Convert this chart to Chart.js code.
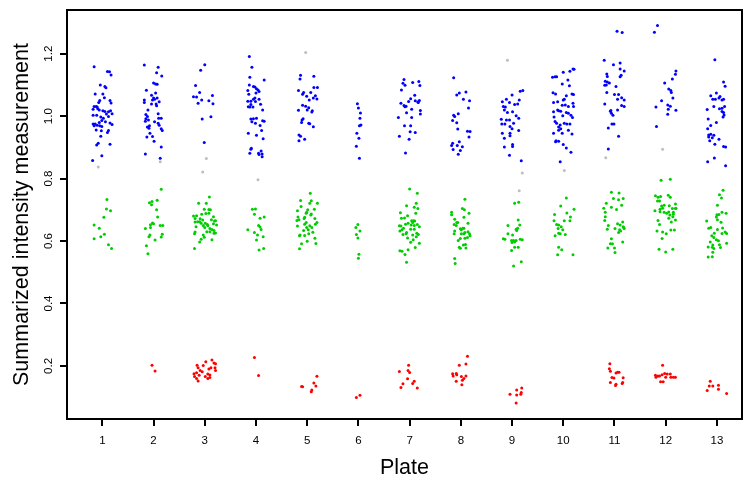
<!DOCTYPE html>
<html lang="en">
<head>
<meta charset="UTF-8">
<title>Summarized intensity by plate</title>
<script src="https://cdn.jsdelivr.net/npm/chart.js"></script>
<style>
  body { margin: 0; background: #fff; }
  #wrap { width: 745px; height: 478px; }
</style>
</head>
<body>
<div id="wrap"><canvas id="myChart" width="745" height="478"></canvas></div>

<script>
// plates on the x axis and the y tick labels
const plates = [1, 2, 3, 4, 5, 6, 7, 8, 9, 10, 11, 12, 13];
const yTicks = [0.2, 0.4, 0.6, 0.8, 1.0, 1.2];

// one list per plate, every point is [jitter, value] (jitter = horizontal spread round the plate)
const blue = [
  [[-0.16,1.158],[0.10,1.143],[0.14,1.142],[0.17,1.132],[-0.04,1.100],[0.05,1.095],[0.07,1.091],[-0.14,1.071],[0.01,1.071],[0.04,1.059],[-0.05,1.050],[-0.07,1.044],[0.15,1.050],[0.17,1.042],[-0.16,1.031],[-0.12,1.031],[-0.10,1.029],[-0.18,1.022],[-0.09,1.024],[-0.06,1.020],[0.01,1.017],[0.05,1.015],[0.12,1.014],[0.16,1.017],[0.19,1.008],[0.08,1.007],[-0.18,1.003],[-0.11,1.003],[-0.03,0.997],[0.02,0.993],[0.12,0.999],[-0.01,0.986],[-0.06,0.980],[-0.18,0.975],[-0.14,0.975],[-0.10,0.971],[0.06,0.982],[0.15,0.978],[0.19,0.973],[-0.16,0.969],[-0.05,0.969],[-0.01,0.967],[-0.12,0.956],[-0.02,0.953],[0.12,0.954],[0.10,0.948],[-0.03,0.936],[-0.08,0.913],[-0.11,0.908],[0.15,0.910],[-0.01,0.873],[-0.19,0.858]],
  [[-0.18,1.164],[0.09,1.157],[0.06,1.139],[0.16,1.129],[0.00,1.106],[0.04,1.103],[0.07,1.102],[-0.14,1.083],[0.04,1.074],[-0.04,1.067],[0.00,1.058],[0.02,1.054],[-0.02,1.052],[0.07,1.058],[-0.18,1.052],[0.11,1.046],[0.05,1.039],[-0.04,1.039],[-0.18,1.044],[0.06,1.033],[-0.11,1.020],[-0.15,1.005],[0.09,1.008],[-0.12,0.999],[-0.15,0.992],[-0.10,0.988],[-0.16,0.984],[0.10,0.993],[0.15,0.993],[0.02,0.982],[0.09,0.977],[0.11,0.971],[-0.08,0.969],[-0.12,0.965],[-0.09,0.961],[0.15,0.960],[0.17,0.954],[-0.07,0.945],[-0.13,0.933],[-0.02,0.935],[0.01,0.920],[0.15,0.901],[-0.16,0.879],[0.13,0.865]],
  [[0.00,1.165],[-0.08,1.147],[-0.18,1.098],[-0.10,1.076],[-0.22,1.062],[-0.16,1.061],[-0.06,1.052],[0.08,1.049],[0.15,1.066],[0.16,1.040],[-0.13,1.041],[-0.05,0.991],[0.12,0.998],[-0.01,0.916]],
  [[-0.13,1.191],[-0.08,1.157],[-0.12,1.125],[0.16,1.116],[-0.13,1.100],[-0.05,1.095],[-0.02,1.093],[0.01,1.088],[0.04,1.084],[0.06,1.079],[-0.16,1.082],[-0.14,1.070],[0.00,1.074],[-0.02,1.058],[-0.05,1.054],[0.06,1.054],[-0.16,1.048],[-0.10,1.048],[-0.01,1.047],[0.09,1.038],[-0.10,1.037],[-0.15,1.030],[-0.12,1.029],[-0.06,1.029],[0.13,1.020],[-0.10,0.991],[-0.05,0.992],[0.01,0.993],[0.13,0.985],[0.16,0.984],[-0.08,0.982],[-0.01,0.977],[0.08,0.970],[0.11,0.954],[-0.15,0.945],[0.01,0.939],[0.14,0.928],[-0.09,0.897],[-0.10,0.894],[-0.12,0.881],[0.05,0.881],[0.10,0.888],[0.12,0.879],[0.06,0.877],[0.12,0.870]],
  [[-0.13,1.131],[-0.14,1.119],[0.13,1.128],[-0.17,1.082],[-0.07,1.076],[-0.09,1.070],[-0.01,1.064],[0.07,1.076],[0.20,1.092],[0.13,1.092],[0.16,1.065],[0.12,1.058],[0.19,1.055],[0.04,1.052],[-0.09,1.035],[-0.03,1.032],[0.03,1.027],[0.00,1.020],[0.10,1.017],[0.09,1.013],[-0.17,1.019],[-0.08,0.992],[-0.10,0.988],[-0.11,0.980],[0.03,0.977],[0.05,0.976],[0.12,0.966],[-0.16,0.940],[-0.13,0.936],[-0.05,0.926],[-0.16,0.921]],
  [[-0.02,1.040],[0.00,1.026],[0.04,1.010],[0.03,0.993],[0.05,0.972],[0.02,0.969],[-0.03,0.945],[0.01,0.929],[-0.04,0.904],[0.02,0.865]],
  [[-0.11,1.117],[-0.13,1.105],[-0.09,1.099],[0.06,1.108],[0.18,1.111],[0.20,1.098],[-0.16,1.084],[0.10,1.067],[0.02,1.056],[-0.02,1.047],[-0.11,1.034],[-0.07,1.032],[-0.09,1.030],[-0.17,1.041],[0.11,1.049],[0.16,1.045],[0.19,1.050],[0.17,1.044],[0.04,1.022],[0.21,1.018],[0.21,1.007],[-0.06,1.011],[-0.22,0.996],[0.04,0.996],[-0.10,0.969],[0.02,0.969],[0.01,0.950],[0.11,0.948],[-0.20,0.936],[-0.01,0.926],[-0.08,0.882]],
  [[-0.14,1.123],[-0.08,1.068],[-0.03,1.074],[0.10,1.077],[0.05,1.054],[0.17,1.049],[0.15,1.026],[-0.05,1.008],[-0.14,1.003],[-0.12,0.999],[-0.16,0.986],[-0.08,0.979],[-0.06,0.959],[0.13,0.952],[0.18,0.951],[0.16,0.933],[-0.03,0.918],[-0.16,0.913],[-0.18,0.906],[-0.07,0.906],[0.03,0.902],[-0.15,0.893],[-0.01,0.890],[-0.05,0.878]],
  [[-0.19,1.046],[-0.11,1.054],[0.00,1.068],[-0.05,1.044],[0.05,1.037],[0.11,1.039],[0.16,1.080],[0.21,1.082],[0.14,1.052],[-0.17,1.031],[-0.13,1.029],[-0.15,1.020],[-0.09,1.012],[0.01,1.014],[0.08,1.001],[0.13,0.993],[-0.21,0.990],[-0.11,0.988],[-0.05,0.988],[0.03,0.977],[-0.20,0.975],[-0.14,0.975],[-0.04,0.967],[0.00,0.960],[0.13,0.954],[-0.19,0.945],[-0.04,0.945],[-0.04,0.937],[-0.15,0.929],[0.01,0.909],[0.01,0.903],[-0.15,0.901],[-0.05,0.875],[0.18,0.857]],
  [[0.00,1.141],[0.13,1.144],[0.19,1.151],[0.21,1.150],[-0.21,1.125],[-0.16,1.126],[-0.13,1.126],[0.09,1.116],[-0.02,1.103],[0.12,1.097],[-0.20,1.075],[-0.15,1.071],[0.17,1.071],[0.20,1.069],[0.06,1.065],[0.02,1.054],[0.00,1.052],[-0.11,1.046],[-0.19,1.044],[0.19,1.041],[-0.02,1.035],[0.04,1.036],[0.10,1.031],[0.20,1.031],[-0.11,1.020],[-0.09,1.017],[-0.05,1.016],[-0.19,1.014],[0.06,1.012],[0.10,1.009],[0.15,1.003],[-0.01,1.001],[0.18,0.996],[-0.18,0.997],[-0.16,0.983],[-0.13,0.977],[0.02,0.977],[0.07,0.975],[0.13,0.975],[-0.06,0.972],[-0.09,0.965],[-0.05,0.960],[-0.09,0.955],[0.10,0.955],[-0.02,0.945],[0.17,0.943],[-0.19,0.945],[-0.14,0.921],[-0.15,0.918],[-0.09,0.920],[0.00,0.909],[0.06,0.898],[0.15,0.884],[-0.06,0.854]],
  [[0.05,1.272],[0.15,1.268],[-0.20,1.179],[-0.02,1.165],[0.11,1.170],[0.11,1.151],[0.19,1.145],[-0.15,1.135],[-0.14,1.127],[0.13,1.131],[0.11,1.126],[-0.18,1.112],[-0.14,1.109],[-0.10,1.106],[-0.19,1.099],[-0.16,1.100],[0.03,1.095],[-0.15,1.076],[0.00,1.069],[0.08,1.069],[0.06,1.054],[0.14,1.059],[0.19,1.052],[-0.19,1.039],[0.14,1.034],[0.19,1.031],[0.06,1.020],[-0.08,1.016],[-0.07,1.018],[-0.06,1.009],[-0.03,1.003],[-0.05,0.975],[-0.01,0.975],[-0.12,0.962],[0.08,0.936],[-0.12,0.895]],
  [[-0.16,1.290],[-0.22,1.269],[0.20,1.145],[0.19,1.134],[0.13,1.119],[-0.02,1.106],[0.06,1.087],[0.10,1.082],[0.11,1.076],[0.14,1.058],[-0.08,1.049],[0.04,1.036],[0.09,1.032],[-0.19,1.029],[0.20,1.019],[0.05,1.022],[0.04,1.006],[-0.18,0.967]],
  [[-0.04,1.181],[0.13,1.109],[0.16,1.096],[-0.12,1.065],[-0.01,1.074],[-0.08,1.054],[-0.03,1.054],[0.04,1.058],[0.06,1.063],[0.10,1.052],[0.13,1.054],[-0.19,1.021],[-0.06,1.031],[0.05,1.024],[0.10,1.025],[0.15,1.031],[0.10,1.015],[0.13,1.012],[0.14,1.004],[0.12,0.997],[-0.17,0.991],[-0.01,0.980],[-0.12,0.970],[-0.18,0.960],[-0.16,0.940],[-0.12,0.942],[-0.06,0.939],[-0.16,0.933],[-0.09,0.931],[-0.14,0.921],[0.04,0.926],[-0.04,0.910],[0.13,0.903],[0.17,0.901],[-0.05,0.866],[-0.18,0.854],[0.17,0.841]]
];

const green = [
  [[0.09,0.733],[0.08,0.703],[0.16,0.697],[0.03,0.676],[-0.16,0.651],[-0.06,0.641],[0.04,0.622],[-0.03,0.614],[-0.16,0.607],[0.12,0.588],[0.18,0.576]],
  [[0.15,0.766],[0.07,0.731],[-0.08,0.723],[-0.03,0.727],[-0.04,0.716],[0.06,0.700],[0.08,0.677],[-0.02,0.658],[-0.06,0.652],[0.00,0.655],[0.13,0.650],[0.18,0.650],[-0.06,0.643],[-0.16,0.640],[0.17,0.622],[-0.07,0.619],[-0.09,0.614],[0.15,0.613],[0.03,0.603],[-0.14,0.585],[-0.11,0.559]],
  [[0.09,0.741],[-0.12,0.721],[0.03,0.721],[-0.01,0.702],[0.08,0.701],[0.11,0.700],[0.02,0.688],[0.08,0.689],[-0.06,0.686],[-0.22,0.680],[-0.16,0.681],[0.17,0.678],[-0.19,0.672],[-0.09,0.671],[-0.04,0.667],[0.13,0.668],[0.21,0.665],[-0.19,0.661],[-0.14,0.662],[-0.10,0.662],[-0.07,0.657],[0.01,0.657],[0.05,0.653],[0.06,0.649],[0.17,0.655],[0.23,0.651],[0.19,0.664],[-0.17,0.646],[-0.03,0.650],[0.00,0.643],[0.10,0.640],[0.14,0.637],[0.18,0.634],[0.21,0.626],[0.18,0.625],[0.04,0.630],[0.10,0.630],[-0.19,0.629],[-0.20,0.623],[-0.03,0.619],[-0.01,0.612],[-0.07,0.606],[-0.10,0.597],[0.14,0.604],[-0.20,0.576]],
  [[-0.07,0.702],[-0.01,0.703],[-0.03,0.686],[0.16,0.677],[0.08,0.673],[0.05,0.650],[0.08,0.645],[0.10,0.637],[-0.16,0.636],[-0.03,0.627],[0.03,0.619],[0.14,0.614],[0.01,0.603],[0.15,0.576],[0.06,0.571]],
  [[0.06,0.753],[-0.13,0.730],[0.08,0.729],[0.05,0.721],[0.20,0.721],[-0.12,0.711],[0.14,0.702],[0.01,0.700],[-0.01,0.692],[-0.02,0.689],[0.08,0.687],[-0.19,0.697],[0.07,0.683],[-0.05,0.676],[-0.18,0.677],[-0.06,0.672],[0.15,0.672],[-0.20,0.666],[-0.16,0.668],[-0.02,0.659],[-0.05,0.654],[0.19,0.659],[0.16,0.654],[-0.19,0.648],[0.05,0.649],[0.09,0.643],[-0.01,0.643],[0.02,0.636],[-0.07,0.634],[0.11,0.628],[-0.14,0.619],[-0.05,0.618],[0.03,0.623],[-0.15,0.617],[0.15,0.609],[0.00,0.599],[-0.11,0.591],[0.17,0.592],[-0.15,0.575]],
  [[-0.01,0.653],[-0.05,0.643],[0.03,0.632],[-0.04,0.621],[-0.01,0.610],[0.01,0.558],[0.00,0.545]],
  [[0.00,0.767],[0.15,0.753],[-0.06,0.713],[0.13,0.721],[0.09,0.708],[0.16,0.704],[-0.18,0.691],[0.12,0.689],[-0.04,0.681],[-0.16,0.673],[-0.10,0.674],[0.04,0.665],[0.08,0.665],[0.06,0.659],[0.10,0.664],[-0.03,0.657],[-0.08,0.654],[0.03,0.651],[0.09,0.650],[0.15,0.653],[0.19,0.646],[-0.20,0.649],[-0.17,0.648],[-0.12,0.641],[0.02,0.638],[0.09,0.638],[-0.19,0.632],[-0.15,0.636],[-0.06,0.627],[0.14,0.625],[0.17,0.621],[-0.13,0.621],[-0.07,0.623],[0.06,0.619],[0.13,0.614],[-0.04,0.610],[0.07,0.604],[0.02,0.596],[0.19,0.593],[0.11,0.579],[-0.03,0.572],[-0.19,0.569],[-0.15,0.567],[-0.09,0.557],[-0.06,0.532]],
  [[0.08,0.734],[0.03,0.704],[0.07,0.700],[-0.18,0.692],[0.16,0.689],[-0.18,0.684],[0.06,0.676],[-0.12,0.670],[-0.08,0.659],[-0.06,0.659],[0.14,0.657],[-0.13,0.653],[-0.09,0.650],[0.04,0.641],[-0.01,0.639],[0.06,0.641],[0.01,0.636],[-0.12,0.632],[0.08,0.627],[0.14,0.630],[-0.13,0.623],[0.01,0.623],[0.06,0.623],[0.17,0.623],[0.18,0.617],[0.13,0.611],[-0.01,0.608],[0.08,0.609],[-0.05,0.602],[0.05,0.587],[0.09,0.589],[-0.03,0.580],[-0.01,0.577],[0.10,0.578],[-0.12,0.544],[-0.11,0.528]],
  [[0.05,0.721],[0.13,0.724],[0.12,0.667],[0.15,0.651],[-0.08,0.650],[0.11,0.641],[0.08,0.638],[0.09,0.634],[-0.08,0.623],[0.01,0.619],[-0.17,0.607],[-0.14,0.606],[-0.01,0.602],[0.03,0.602],[0.08,0.602],[0.05,0.597],[0.00,0.595],[0.16,0.606],[0.20,0.604],[0.05,0.580],[0.12,0.580],[-0.01,0.570],[0.18,0.534],[0.03,0.520]],
  [[0.06,0.738],[-0.05,0.712],[0.21,0.702],[-0.17,0.685],[0.07,0.690],[0.14,0.677],[-0.18,0.665],[0.02,0.665],[0.13,0.665],[-0.13,0.653],[-0.09,0.651],[-0.04,0.646],[-0.10,0.640],[-0.01,0.636],[-0.09,0.625],[-0.06,0.623],[0.04,0.621],[-0.16,0.617],[-0.09,0.580],[-0.03,0.572],[-0.11,0.556],[0.19,0.556]],
  [[-0.06,0.756],[0.09,0.754],[-0.02,0.736],[0.08,0.732],[0.17,0.736],[-0.16,0.721],[0.14,0.715],[-0.06,0.708],[-0.21,0.705],[0.04,0.701],[-0.18,0.692],[-0.18,0.678],[-0.19,0.666],[0.16,0.661],[-0.12,0.650],[0.06,0.655],[0.11,0.651],[0.18,0.643],[-0.14,0.638],[0.01,0.640],[0.10,0.636],[0.12,0.632],[0.08,0.627],[0.19,0.640],[0.17,0.646],[-0.06,0.607],[0.16,0.597],[-0.13,0.578],[0.00,0.578],[-0.04,0.591],[0.01,0.563],[-0.08,0.591]],
  [[-0.09,0.795],[0.09,0.798],[-0.20,0.745],[-0.15,0.740],[-0.10,0.743],[0.05,0.747],[0.09,0.740],[-0.16,0.728],[-0.12,0.728],[-0.03,0.715],[-0.08,0.712],[0.07,0.713],[-0.06,0.705],[-0.11,0.702],[0.19,0.719],[0.13,0.704],[0.19,0.704],[-0.21,0.697],[-0.11,0.694],[-0.03,0.692],[0.02,0.689],[0.06,0.693],[0.15,0.692],[0.15,0.686],[0.20,0.705],[0.08,0.683],[0.14,0.678],[0.06,0.673],[0.19,0.667],[0.11,0.661],[-0.15,0.666],[-0.12,0.653],[-0.17,0.632],[-0.06,0.629],[0.01,0.623],[0.10,0.635],[0.17,0.635],[-0.07,0.608],[-0.13,0.574],[0.00,0.565],[0.14,0.574]],
  [[0.12,0.763],[0.05,0.748],[0.09,0.738],[0.01,0.715],[0.10,0.692],[0.18,0.689],[0.00,0.684],[0.04,0.685],[-0.01,0.677],[0.01,0.668],[0.08,0.660],[-0.20,0.664],[0.11,0.642],[-0.12,0.643],[-0.16,0.641],[0.01,0.637],[-0.05,0.625],[0.10,0.624],[0.16,0.629],[0.19,0.624],[-0.10,0.617],[-0.06,0.611],[-0.01,0.604],[0.03,0.601],[-0.13,0.597],[0.19,0.593],[-0.08,0.587],[0.05,0.588],[-0.17,0.581],[-0.09,0.580],[0.07,0.579],[-0.06,0.576],[-0.08,0.564],[-0.17,0.549],[-0.09,0.550]]
];

const red = [
  [],
  [[-0.03,0.202],[0.03,0.184]],
  [[-0.21,0.175],[-0.15,0.202],[-0.13,0.194],[-0.09,0.185],[-0.16,0.178],[-0.11,0.170],[-0.03,0.201],[0.02,0.213],[0.14,0.219],[0.18,0.209],[0.21,0.207],[0.12,0.194],[0.20,0.194],[0.08,0.190],[0.21,0.185],[-0.05,0.181],[0.06,0.174],[0.10,0.171],[0.01,0.166],[0.06,0.160],[0.10,0.163],[-0.16,0.160],[-0.20,0.166],[-0.13,0.152]],
  [[-0.03,0.227],[0.05,0.169]],
  [[-0.11,0.134],[-0.09,0.133],[0.19,0.167],[0.13,0.145],[0.17,0.136],[0.09,0.123],[0.08,0.117]],
  [[-0.04,0.099],[0.03,0.106]],
  [[-0.20,0.182],[-0.02,0.202],[-0.03,0.185],[0.00,0.179],[-0.04,0.159],[0.09,0.151],[0.06,0.144],[-0.13,0.143],[-0.17,0.131],[0.15,0.129]],
  [[0.13,0.231],[-0.03,0.202],[0.10,0.206],[-0.16,0.175],[-0.09,0.176],[-0.08,0.172],[-0.15,0.168],[0.10,0.168],[0.01,0.166],[0.06,0.160],[0.03,0.154],[-0.09,0.151],[0.02,0.140]],
  [[0.19,0.129],[0.09,0.123],[-0.04,0.109],[0.09,0.107],[0.18,0.115],[0.17,0.109],[0.08,0.081]],
  [],
  [[-0.09,0.207],[-0.10,0.191],[-0.08,0.183],[0.06,0.180],[0.09,0.180],[0.03,0.177],[-0.05,0.163],[-0.01,0.161],[0.17,0.162],[-0.08,0.147],[0.03,0.141],[0.02,0.137],[0.16,0.147],[0.15,0.144]],
  [[-0.06,0.202],[-0.20,0.170],[-0.15,0.168],[-0.19,0.164],[-0.12,0.168],[-0.07,0.172],[-0.02,0.176],[0.03,0.174],[0.09,0.174],[0.00,0.164],[0.10,0.164],[0.15,0.164],[0.19,0.164],[-0.10,0.149],[-0.05,0.149]],
  [[-0.13,0.151],[-0.15,0.136],[-0.08,0.136],[0.03,0.138],[-0.19,0.121],[0.03,0.125],[0.19,0.112]]
];

const grey = [
  [[-0.08,0.837]],
  [[0.13,0.854]],
  [[0.03,0.864],[-0.04,0.821]],
  [[0.04,0.796]],
  [[-0.03,1.204]],
  [],
  [],
  [],
  [[-0.09,1.179],[0.20,0.818],[0.14,0.761]],
  [[0.02,0.826]],
  [[-0.17,0.867]],
  [[-0.06,0.894]],
  []
];

function pontos(grupo) {
  const out = [];
  grupo.forEach((lista, i) => {
    lista.forEach(p => out.push({ x: plates[i] + p[0], y: p[1] }));
  });
  return out;
}

const fonte = '"Liberation Sans", Arial, Helvetica, sans-serif';

function serie(nome, grupo, cor) {
  return {
    label: nome,
    data: pontos(grupo),
    backgroundColor: cor,
    borderColor: cor,
    borderWidth: 0,
    pointRadius: 1.5,
    pointHoverRadius: 1.5
  };
}

// box round the plot, y tick marks and rotated y labels, like R does
const moldura = {
  id: 'moldura',
  afterDraw(chart) {
    const { ctx, chartArea: a } = chart;
    const y = chart.scales.y;
    ctx.save();
    ctx.strokeStyle = '#000';
    ctx.lineWidth = 2;
    ctx.strokeRect(a.left, a.top, a.right - a.left, a.bottom - a.top);

    // y tick marks, going out to the left of the box
    yTicks.forEach(v => {
      const py = Math.round(y.getPixelForValue(v));
      ctx.beginPath();
      ctx.moveTo(a.left, py);
      ctx.lineTo(a.left - 7, py);
      ctx.stroke();
    });

    ctx.fillStyle = '#000';
    ctx.font = '11.5px ' + fonte;
    ctx.textAlign = 'center';
    ctx.textBaseline = 'middle';
    yTicks.forEach(v => {
      ctx.save();
      ctx.translate(49, y.getPixelForValue(v));
      ctx.rotate(-Math.PI / 2);
      ctx.fillText(v.toFixed(1), 0, 0);
      ctx.restore();
    });
    ctx.restore();
  }
};

const config = {
  type: 'scatter',
  data: {
    datasets: [
      serie('blue', blue, '#0000FF'),
      serie('green', green, '#00CD00'),
      serie('red', red, '#FF0000'),
      serie('grey', grey, '#BEBEBE')
    ]
  },
  options: {
    responsive: false,
    animation: false,
    layout: { padding: { top: 10, right: 3, left: 0, bottom: 0 } },
    plugins: { legend: { display: false }, tooltip: { enabled: false } },
    scales: {
      x: {
        type: 'linear',
        min: 0.31,
        max: 13.49,
        afterFit(s) { s.height = 59; },
        afterBuildTicks(s) { s.ticks = plates.map(v => ({ value: v })); },
        border: { display: false },
        grid: { drawOnChartArea: false, drawTicks: true, tickLength: 7, color: '#000', lineWidth: 2 },
        ticks: { color: '#000', font: { family: fonte, size: 11.5 }, padding: 8, maxRotation: 0 },
        title: { display: true, text: 'Plate', color: '#000', font: { family: fonte, size: 21.5 }, padding: { top: 0, bottom: -3 } }
      },
      y: {
        type: 'linear',
        min: 0.03,
        max: 1.34,
        afterFit(s) { s.width = 67; },
        afterBuildTicks(s) { s.ticks = yTicks.map(v => ({ value: v })); },
        border: { display: false },
        grid: { display: false },
        ticks: { display: false },
        title: { display: true, text: 'Summarized intensity measurement', color: '#000', font: { family: fonte, size: 21.5 }, padding: { top: 9, bottom: 0 } }
      }
    }
  },
  plugins: [moldura]
};

const grafico = new Chart(document.getElementById('myChart'), config);
</script>
</body>
</html>
